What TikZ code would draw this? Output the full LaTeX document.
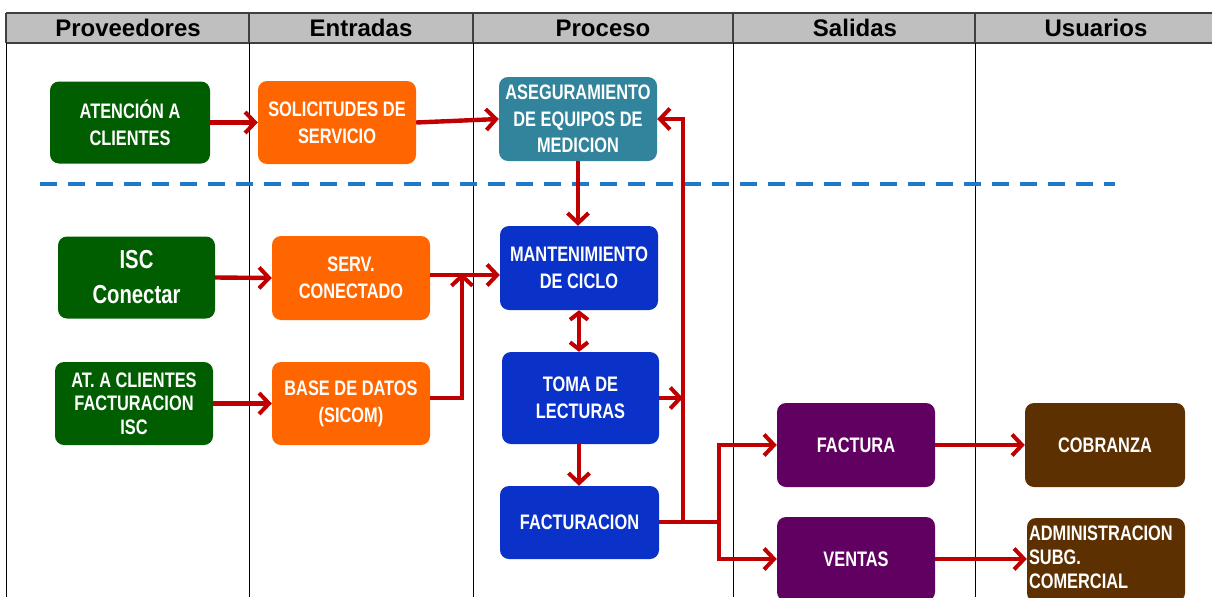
\documentclass[tikz,border=0pt]{standalone}
\usepackage{fontspec}
\setmainfont{Liberation Sans}
\newfontfamily\narrowfont[FakeStretch=0.78]{Liberation Sans}
\usetikzlibrary{arrows.meta}
\definecolor{hdrgray}{HTML}{BFBFBF}
\definecolor{cgreen}{HTML}{005E00}
\definecolor{corange}{HTML}{FF6600}
\definecolor{cteal}{HTML}{31849B}
\definecolor{cblue}{HTML}{0A32C8}
\definecolor{cpurple}{HTML}{600060}
\definecolor{cbrown}{HTML}{5C3000}
\definecolor{cred}{HTML}{C00000}
\definecolor{cdash}{HTML}{1E7AC8}
\begin{document}
\begin{tikzpicture}[x=1pt,y=-1pt,
  hdr/.style={font=\bfseries\fontsize{24}{28}\selectfont, text=black, inner sep=0pt},
  box/.style={rounded corners=9pt, text=white, align=center, inner sep=2pt,
    font=\narrowfont\bfseries\fontsize{21}{27}\selectfont},
  arr/.style={draw=cred, line width=4.4pt, line join=miter,
    -{Straight Barb[length=10pt,width=21pt,line width=4pt]}},
  dbl/.style={draw=cred, line width=4.4pt,
    {Straight Barb[length=7pt,width=18pt,line width=4pt]}-{Straight Barb[length=7pt,width=18pt,line width=4pt]}},
  pln/.style={draw=cred, line width=4.4pt, line join=miter},
  dashline/.style={draw=cdash, line width=4pt, dash pattern=on 17pt off 11pt}
]
\useasboundingbox (0,0) rectangle (1212,597);
% header band
\fill[hdrgray] (6,13) rectangle (1212,43);
\draw[line width=2pt, draw=black!75] (6,13) -- (1212,13);
\draw[line width=2pt, draw=black!75] (6,43) -- (1212,43);
% column lines
\foreach \cx in {6,249,473,733,975} {
  \draw[line width=1pt] (\cx,13) -- (\cx,597);
  \draw[line width=2pt, draw=black!75] (\cx,13) -- (\cx,43);
}
\node[hdr] (h1) at (128,28) {Proveedores};
\node[hdr] (h2) at (361,28) {Entradas};
\node[hdr] (h3) at (603,28) {Proceso};
\node[hdr] (h4) at (855,28) {Salidas};
\node[hdr] (h5) at (1096,28) {Usuarios};
% dashed separator
\coordinate (d1) at (40,184);
\coordinate (d2) at (1115,184);
\draw[dashline] (d1) -- (d2);
% boxes
\node[box, fill=cgreen, minimum width=160pt, minimum height=82pt] (atn) at (130,122.5) {ATENCIÓN A\\CLIENTES};
\node[box, fill=corange, minimum width=158pt, minimum height=83pt] (sol) at (337,122.5) {SOLICITUDES DE\\SERVICIO};
\node[box, fill=cteal, minimum width=158pt, minimum height=84pt, font=\narrowfont\bfseries\fontsize{21}{26.5}\selectfont] (ase) at (578,119) {ASEGURAMIENTO\\DE EQUIPOS DE\\MEDICION};
\node[box, fill=cgreen, minimum width=157pt, minimum height=82pt, font=\narrowfont\bfseries\fontsize{26}{35}\selectfont] (isc) at (136.5,277.5) {ISC\\Conectar};
\node[box, fill=corange, minimum width=158pt, minimum height=84pt] (serv) at (351,278) {SERV.\\CONECTADO};
\node[box, fill=cblue, minimum width=158pt, minimum height=84pt] (mant) at (579,268) {MANTENIMIENTO\\DE CICLO};
\node[box, fill=cgreen, minimum width=158pt, minimum height=83pt, font=\narrowfont\bfseries\fontsize{21}{23.5}\selectfont] (atc) at (134,403.5) {AT. A CLIENTES\\FACTURACION\\ISC};
\node[box, fill=corange, minimum width=158pt, minimum height=83pt] (base) at (351,403.5) {BASE DE DATOS\\(SICOM)};
\node[box, fill=cblue, minimum width=157pt, minimum height=92pt] (toma) at (580.5,398) {TOMA DE\\LECTURAS};
\node[box, fill=cblue, minimum width=159pt, minimum height=73pt] (fact) at (579.5,522.5) {FACTURACION};
\node[box, fill=cpurple, minimum width=158pt, minimum height=84pt] (factura) at (856,445) {FACTURA};
\node[box, fill=cpurple, minimum width=158pt, minimum height=84pt] (ventas) at (856,559) {VENTAS};
\node[box, fill=cbrown, minimum width=160pt, minimum height=84pt] (cob) at (1105,445) {COBRANZA};
\node[box, fill=cbrown, minimum width=158pt, minimum height=84pt, align=left, text width=154pt, font=\narrowfont\bfseries\fontsize{21}{24}\selectfont] (adm) at (1106,560) {ADMINISTRACION\\SUBG.\\COMERCIAL\rule[-6pt]{0pt}{0pt}};
% junction coordinates
\coordinate (j1) at (462,273);
\coordinate (vup) at (683,522);
\coordinate (j2) at (719,522);
\coordinate (vt) at (683,398);
% connectors
\draw[arr] (atn.east) -- (sol.west);
\draw[arr] (sol.east) -- (ase.west);
\draw[arr] (ase.south) -- (ase.south |- mant.north);
\draw[arr] (isc.east) -- (serv.west);
\draw[arr] (serv.east |- 0,275) -- (mant.west |- 0,275);
\draw[arr] (atc.east) -- (base.west);
\draw[arr] (base.east |- 0,398) -| (j1);
\draw[dbl] (mant.south -| 579,0) -- (toma.north -| 579,0);
\draw[arr] (toma.south -| 579,0) -- (fact.north -| 579,0);
\draw[arr] (toma.east |- vt) -- (vt);
\draw[pln] (fact.east |- j2) -- (j2);
\draw[arr] (vup) |- (ase.east);
\draw[arr] (j2) |- (factura.west);
\draw[arr] (j2) |- (ventas.west);
\draw[arr] (factura.east) -- (cob.west);
\draw[arr] (ventas.east) -- (adm.west |- ventas.east);
\end{tikzpicture}
\end{document}
